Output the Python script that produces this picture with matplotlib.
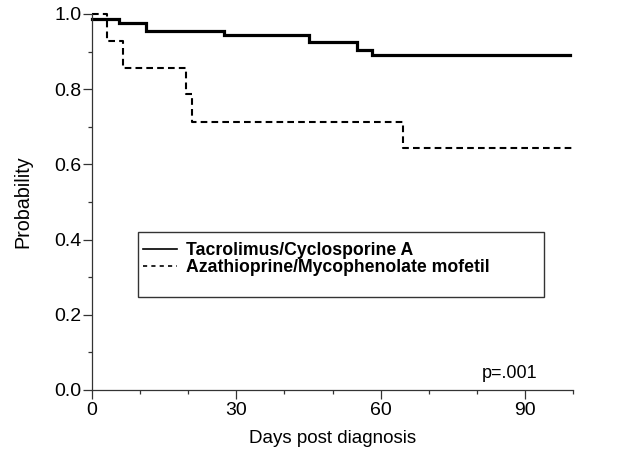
import matplotlib
matplotlib.use("Agg")
import matplotlib.pyplot as plt
from matplotlib.lines import Line2D
from matplotlib.patches import Rectangle

plt.rcParams['font.family'] = ['Liberation Sans', 'DejaVu Sans']

# Kaplan-Meier step data (days, survival probability)
tac_days = [0, 5.6, 11.2, 27.5, 45.1, 55.0, 58.3, 99.3]
tac_prob = [0.988, 0.976, 0.955, 0.945, 0.925, 0.903, 0.890, 0.890]
aza_days = [0, 3.2, 6.5, 19.6, 20.8, 64.6, 100]
aza_prob = [1.0, 0.929, 0.857, 0.786, 0.714, 0.643, 0.643]

series_labels = ["Tacrolimus/Cyclosporine A", "Azathioprine/Mycophenolate mofetil"]
x_ticks = [0, 30, 60, 90]
y_ticks = [0.0, 0.2, 0.4, 0.6, 0.8, 1.0]
p_text = "p=.001"

W, H = 632, 468
fig = plt.figure(figsize=(W / 100, H / 100), dpi=100)
left, right, top, bottom = 92, 573, 14, 390
ax = fig.add_axes([left / W, 1 - bottom / H, (right - left) / W, (bottom - top) / H])

ax.step(tac_days, tac_prob, where='post', color='black', lw=2.3, clip_on=False,
        solid_joinstyle='miter')
ax.step(aza_days, aza_prob, where='post', color='black', lw=1.5, clip_on=False,
        dashes=(3.2, 2.0))

ax.set_xlim(0, 100)
ax.set_ylim(0, 1.0)
ax.set_xticks(x_ticks)
ax.set_xticks(range(0, 101, 10), minor=True)
ax.set_yticks(y_ticks)
ax.set_yticks([i / 10 for i in range(11)], minor=True)
ax.set_yticklabels([f"{v:.1f}" for v in y_ticks])
ax.set_xticklabels([str(v) for v in x_ticks])

for s in ['top', 'right']:
    ax.spines[s].set_visible(False)
for s in ['left', 'bottom']:
    ax.spines[s].set_color('#333333')
    ax.spines[s].set_linewidth(0.9)

ax.tick_params(which='major', direction='out', length=6.5, width=0.9, color='#333333',
               labelsize=14, pad=1.0)
ax.tick_params(which='minor', direction='out', length=3, width=0.9, color='#333333')
ax.tick_params(axis='x', which='major', pad=2.0)

ax.set_xlabel("Days post diagnosis", fontsize=13.5, labelpad=8)
ax.set_ylabel("Probability", fontsize=14.2, labelpad=16)

ax.text(86.9, 0.045, p_text, fontsize=13, ha='center', va='center')

# Legend box
bx0, by0, bx1, by1 = 138, 297, 544, 232
def fx(px):
    return px / W
def fy(py):
    return 1 - py / H
rect = Rectangle((fx(bx0), fy(by0)), fx(bx1) - fx(bx0), fy(by1) - fy(by0),
                 transform=fig.transFigure, fill=False, edgecolor='#333333', lw=1.0)
fig.patches.append(rect)
handles = [Line2D([], [], color='black', lw=1.2),
           Line2D([], [], color='black', lw=1.2, dashes=(2.5, 2.5))]
leg = fig.legend(handles, series_labels, loc='upper left',
                 bbox_to_anchor=(fx(143), fy(242)), frameon=False,
                 prop={'size': 12.7, 'weight': 'bold'}, handlelength=1.95,
                 handletextpad=0.5, labelspacing=0.0, borderpad=0, borderaxespad=0)

fig.savefig("out.png", dpi=100)
